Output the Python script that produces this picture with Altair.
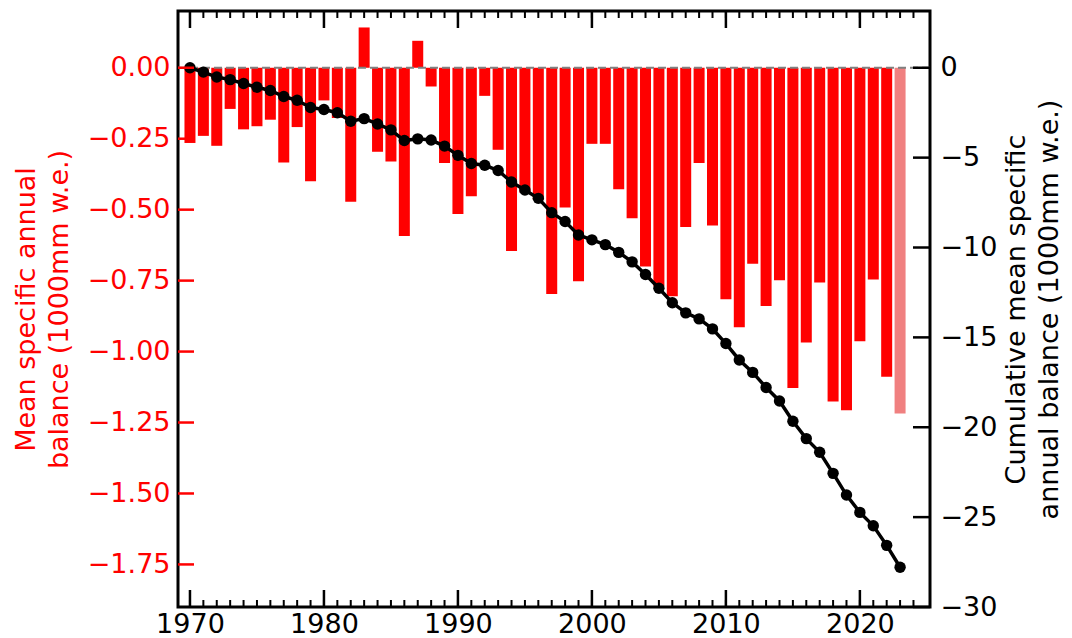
import altair as alt
import pandas as pd

# ---- data ----
years = list(range(1970, 2024))
balance = [
    -0.265, -0.240, -0.275, -0.145, -0.217, -0.206, -0.183, -0.334, -0.209, -0.400,   # 1970s
    -0.115, -0.177, -0.472, 0.142, -0.296, -0.330, -0.593, 0.095, -0.066, -0.336,     # 1980s
    -0.515, -0.453, -0.099, -0.289, -0.646, -0.440, -0.465, -0.797, -0.492, -0.752,   # 1990s
    -0.268, -0.268, -0.428, -0.530, -0.700, -0.770, -0.805, -0.561, -0.336, -0.556,   # 2000s
    -0.816, -0.914, -0.691, -0.839, -0.749, -1.128, -0.968, -0.757, -1.176, -1.207,   # 2010s
    -0.964, -0.746, -1.089, -1.218,                                                   # 2020s
]
# cumulative balance: starts at 0 in 1970, then adds each following year's balance
cumulative = [0.0]
for b in balance[1:]:
    cumulative.append(round(cumulative[-1] + b, 4))

left_ticks = [0.0, -0.25, -0.5, -0.75, -1.0, -1.25, -1.5, -1.75]
right_ticks = [0, -5, -10, -15, -20, -25, -30]
major_years = [1970, 1980, 1990, 2000, 2010, 2020]
minor_years = list(range(1970, 2025))

left_title = ["Mean specific annual", "balance (1000mm w.e.)"]
right_title = ["Cumulative mean specific", "annual balance (1000mm w.e.)"]

# ---- layout / style ----
W, H = 752, 596
FONT = "DejaVu Sans"
FS = 27
RED = "#FF0000"
LIGHT = "#F08080"

xs = alt.Scale(domain=[1969.48, 2024.86], nice=False, zero=False)
ls = alt.Scale(domain=[-1.9, 0.2], nice=False, zero=False)
rs = alt.Scale(domain=[-30, 3.158], nice=False, zero=False)

df = pd.DataFrame({"year": years, "balance": balance, "cumulative": cumulative})

bars = alt.Chart(df).mark_bar(size=11).encode(
    x=alt.X("year:Q", scale=xs, axis=alt.Axis(
        values=major_years, format="d", title=None, labelFontSize=FS,
        labelColor="black", labelPadding=4, labelFlush=False, labelOverlap=False,
        ticks=False, tickSize=0, domain=False, grid=False, labelFont=FONT)),
    y=alt.Y("balance:Q", scale=ls, axis=alt.Axis(
        orient="left", values=left_ticks, format=".2f", title=left_title,
        labelFontSize=FS, labelColor=RED, labelPadding=8, labelFlush=False,
        labelOverlap=False, ticks=False, tickSize=0, domain=False, grid=False,
        labelFont=FONT, titleFont=FONT, titleFontSize=FS, titleFontWeight="normal",
        titleColor=RED, titleLineHeight=33, titleAngle=270, titleAlign="center",
        titleBaseline="top", titleX=-165, titleY=H / 2)),
    y2=alt.datum(0),
    color=alt.condition("datum.year == 2023", alt.value(LIGHT), alt.value(RED)),
)

zero_line = alt.Chart(pd.DataFrame({"v": [0.0]})).mark_rule(
    color="#808080", strokeDash=[8, 4], strokeWidth=2
).encode(
    y=alt.Y("v:Q", scale=ls, axis=None),
    x=alt.value(0), x2=alt.value(W),
)

line = alt.Chart(df).mark_line(color="black", strokeWidth=3.5).encode(
    x=alt.X("year:Q", scale=xs, axis=None),
    y=alt.Y("cumulative:Q", scale=rs, axis=alt.Axis(
        orient="right", values=right_ticks, format="d", title=right_title,
        labelFontSize=FS, labelColor="black", labelPadding=10, labelFlush=False,
        labelOverlap=False, ticks=False, tickSize=0, domain=False, grid=False,
        labelFont=FONT, titleFont=FONT, titleFontSize=FS, titleFontWeight="normal",
        titleColor="black", titleLineHeight=33, titleAngle=270, titleAlign="center",
        titleBaseline="top", titleX=73, titleY=H / 2)),
)

points = alt.Chart(df).mark_circle(size=130, color="black", opacity=1).encode(
    x=alt.X("year:Q", scale=xs, axis=None),
    y=alt.Y("cumulative:Q", scale=rs, axis=None),
)

left_tk = alt.Chart(pd.DataFrame({"v": left_ticks})).mark_rule(color=RED, strokeWidth=2.5).encode(
    y=alt.Y("v:Q", scale=ls, axis=None), x=alt.value(0), x2=alt.value(16))
right_tk = alt.Chart(pd.DataFrame({"v": right_ticks})).mark_rule(color="black", strokeWidth=2.5).encode(
    y=alt.Y("v:Q", scale=rs, axis=None), x=alt.value(W - 17), x2=alt.value(W))

maj = pd.DataFrame({"yr": major_years})
mnr = pd.DataFrame({"yr": minor_years})
bot_major = alt.Chart(maj).mark_rule(color="black", strokeWidth=2.5).encode(
    x=alt.X("yr:Q", scale=xs, axis=None), y=alt.value(H - 17), y2=alt.value(H))
bot_minor = alt.Chart(mnr).mark_rule(color="black", strokeWidth=2).encode(
    x=alt.X("yr:Q", scale=xs, axis=None), y=alt.value(H - 7), y2=alt.value(H))
top_major = alt.Chart(maj).mark_rule(color="black", strokeWidth=2.5).encode(
    x=alt.X("yr:Q", scale=xs, axis=None), y=alt.value(0), y2=alt.value(17))
top_minor = alt.Chart(mnr).mark_rule(color="black", strokeWidth=2).encode(
    x=alt.X("yr:Q", scale=xs, axis=None), y=alt.value(0), y2=alt.value(7))

chart = alt.layer(
    bars, zero_line, line, points, left_tk, right_tk,
    bot_major, bot_minor, top_major, top_minor,
).resolve_scale(
    y="independent"
).resolve_axis(
    x="independent", y="independent"
).properties(
    width=W, height=H,
    autosize=alt.AutoSizeParams(type="none"),
    padding={"left": 170, "top": 3, "right": 134, "bottom": 31},
).configure_view(
    stroke="black", strokeWidth=3
).configure_axis(
    grid=False
)

chart.save("out.html", embed_options={"renderer": "svg", "actions": False})
